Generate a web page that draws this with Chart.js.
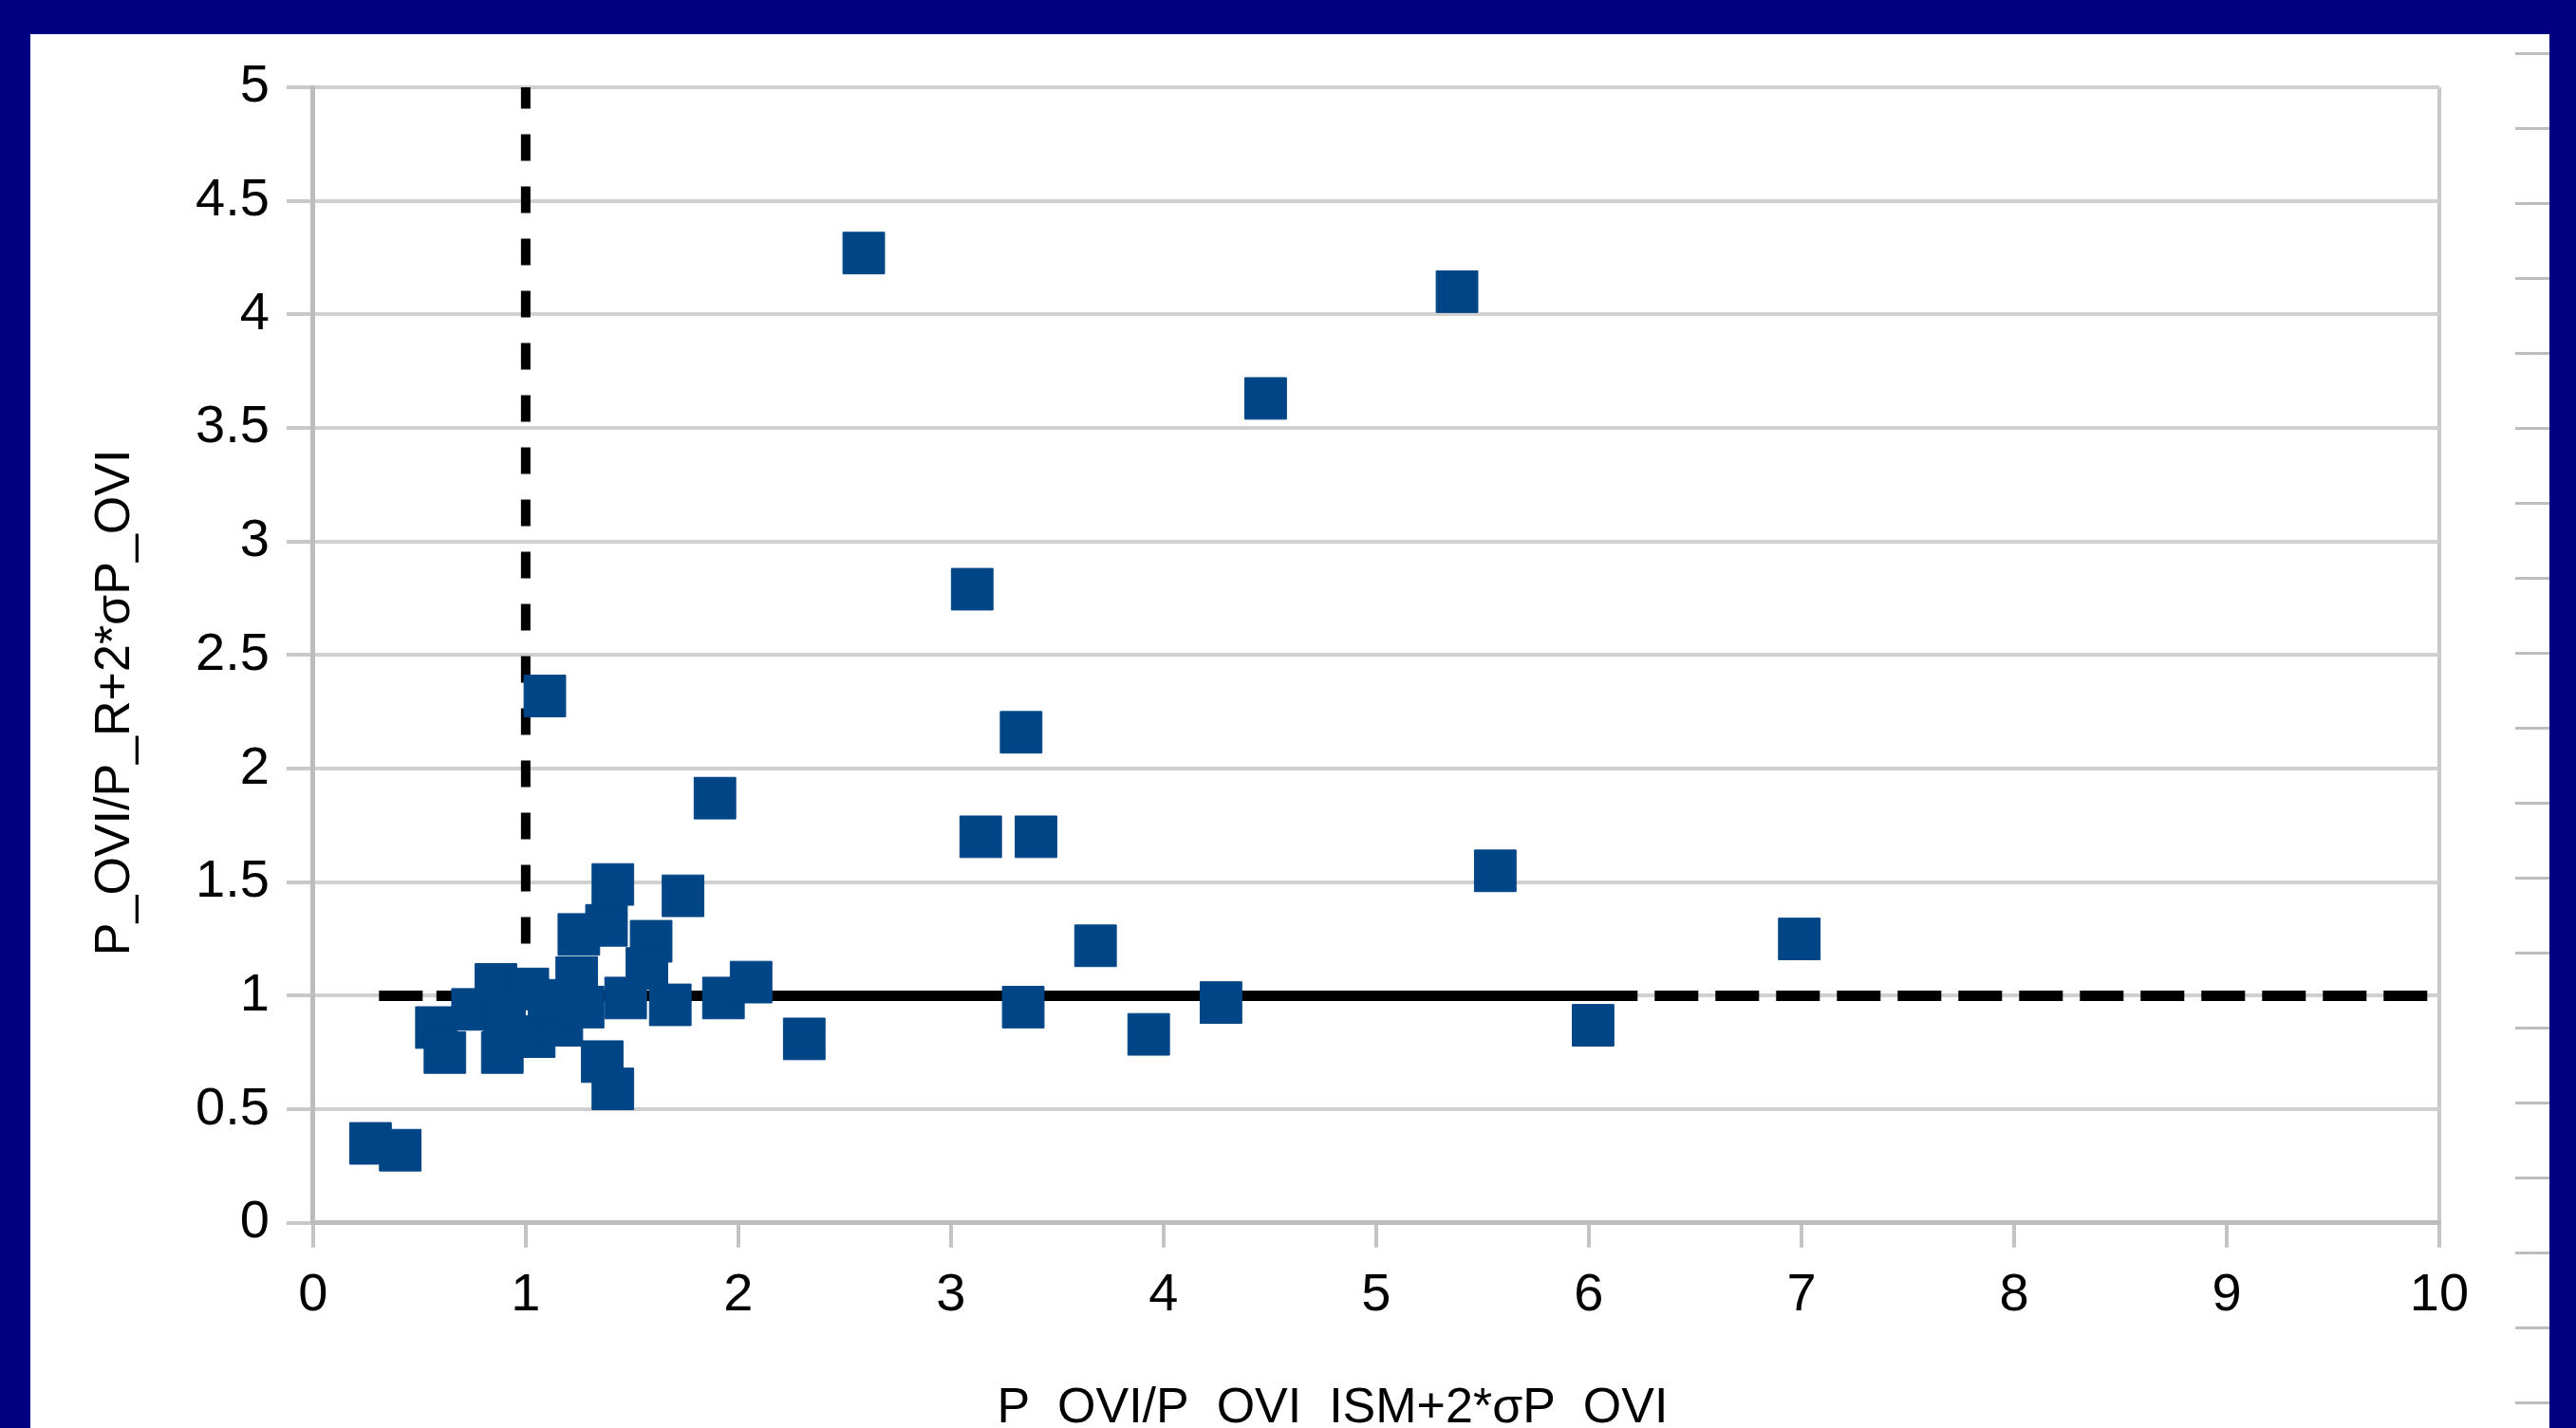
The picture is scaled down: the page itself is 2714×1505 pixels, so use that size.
<!DOCTYPE html>
<html>
<head>
<meta charset="utf-8">
<script src="https://cdn.jsdelivr.net/npm/chart.js@4.4.1/dist/chart.umd.min.js"></script>
<style>
  html, body { margin: 0; padding: 0; width: 2714px; height: 1505px; overflow: hidden; background: #000080; }
  #panel { position: absolute; left: 32px; top: 36px; width: 2654px; height: 1480px; background: #fff; }
  /* little gray marks along the right edge of the slide */
  #ruler { position: absolute; left: 2650px; top: 55px; width: 36px; height: 1450px;
           background: repeating-linear-gradient(to bottom, #bdbdbd 0px, #bdbdbd 3px, transparent 3px, transparent 79px); }
</style>
</head>
<body>
<div id="panel"><canvas id="chart" width="2654" height="1480"></canvas></div>
<div id="ruler"></div>
<script>
/* Points */
var x_values = [2.59, 5.38, 4.48, 3.10, 3.33, 1.09, 1.89, 3.14, 3.40, 5.56, 6.99, 3.68, 4.27, 3.34, 6.02, 3.93, 2.31, 1.93, 2.06, 0.27, 0.41,
                1.41, 1.74, 1.38, 1.25, 1.59, 1.24, 0.86, 0.75, 0.58, 0.62, 0.89, 1.04, 1.17, 1.68, 1.57, 1.47, 1.36, 1.41, 1.01, 1.11, 1.27, 0.90];
var y_values = [4.27, 4.10, 3.63, 2.79, 2.16, 2.32, 1.87, 1.70, 1.70, 1.55, 1.25, 1.22, 0.97, 0.95, 0.87, 0.83, 0.81, 0.99, 1.06, 0.35, 0.32,
                1.49, 1.44, 1.31, 1.27, 1.24, 1.08, 1.05, 0.94, 0.86, 0.75, 0.75, 0.82, 0.87, 0.96, 1.12, 0.99, 0.71, 0.59, 1.03, 0.98, 0.95, 0.90];

/* Reference lines */
var vline_x = [1, 1];
var vline_y = [1, 5];
var hline_dash_x = [0.31, 10];
var hline_dash_y = [1, 1];
var hline_solid_x = [0.58, 6.2];
var hline_solid_y = [1, 1];

var x_title = "P_OVI/P_OVI_ISM+2*σP_OVI";
var y_title = "P_OVI/P_R+2*σP_OVI";

function toPoints(xs, ys) {
  return xs.map(function (x, i) { return {x: x, y: ys[i]}; });
}

/* axis titles drawn by hand so they can sit where the original had them */
const axisTitles = {
  id: 'axisTitles',
  afterDraw(chart) {
    const ctx = chart.ctx, a = chart.chartArea;
    ctx.save();
    ctx.fillStyle = '#000';
    ctx.font = '52px "Liberation Sans", Arial, sans-serif';
    ctx.textAlign = 'center';
    ctx.textBaseline = 'alphabetic';
    ctx.fillText(x_title, (a.left + a.right) / 2 - 46, a.bottom + 210);
    ctx.translate(a.left - 208, (a.top + a.bottom) / 2 + 50);
    ctx.rotate(-Math.PI / 2);
    ctx.textBaseline = 'middle';
    ctx.fillText(y_title, 0, 0);
    ctx.restore();
  }
};

const ctx = document.getElementById('chart');

const chart = new Chart(ctx, {
  type: 'scatter',
  data: {
    datasets: [{
      data: toPoints(x_values, y_values),
      pointStyle: 'rect',
      pointRadius: 31,
      backgroundColor: '#004586',
      borderColor: '#004586',
      borderWidth: 1
    }, {
      data: toPoints(vline_x, vline_y),
      showLine: true,
      borderColor: '#000',
      borderWidth: 10,
      borderDash: [28, 27],
      pointRadius: 0
    }, {
      data: toPoints(hline_solid_x, hline_solid_y),
      showLine: true,
      borderColor: '#000',
      borderWidth: 11,
      pointRadius: 0
    }, {
      data: toPoints(hline_dash_x, hline_dash_y),
      showLine: true,
      borderColor: '#000',
      borderWidth: 11,
      borderDash: [46, 18],
      pointRadius: 0
    }]
  },
  options: {
    responsive: false,
    animation: false,
    events: [],
    layout: {padding: {left: 156, top: 56, right: 116, bottom: 100}},
    plugins: {legend: {display: false}, tooltip: {enabled: false}},
    scales: {
      x: {
        type: 'linear',
        min: 0, max: 10,
        ticks: {stepSize: 1, color: '#000', padding: 17, font: {family: 'Liberation Sans', size: 56}},
        grid: {
          color: function (c) { return c.tick && c.tick.value === 10 ? '#c8c8c8' : 'rgba(0,0,0,0)'; },
          lineWidth: 4,
          tickLength: 26,
          tickColor: '#c4c4c4',
          tickWidth: 4
        },
        border: {color: '#bdbdbd', width: 5}
      },
      y: {
        min: 0, max: 5,
        ticks: {
          stepSize: 0.5, color: '#000', padding: 18, font: {family: 'Liberation Sans', size: 56},
          callback: function (v) { return String(Math.round(v * 10) / 10); }
        },
        grid: {color: '#d0d0d0', lineWidth: 4, tickLength: 28, tickColor: '#c8c8c8', tickWidth: 4},
        border: {color: '#bdbdbd', width: 5}
      }
    }
  },
  plugins: [axisTitles]
});
</script>
</body>
</html>
